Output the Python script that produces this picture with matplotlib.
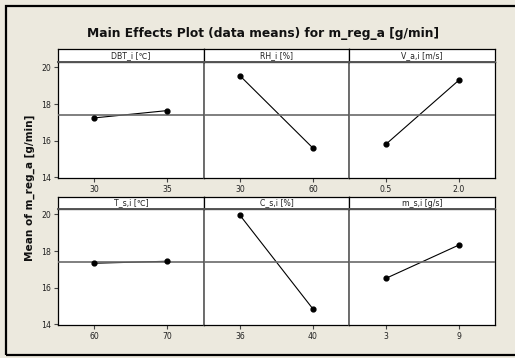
import matplotlib
matplotlib.use("Agg")
import matplotlib.pyplot as plt
from matplotlib.patches import Rectangle

# Factor names and their two levels
factors = ["DBT_i [\u2103]", "RH_i [%]", "V_a,i [m/s]",
           "T_s,i [\u2103]", "C_s,i [%]", "m_s,i [g/s]"]
levels = [["30", "35"], ["30", "60"], ["0.5", "2.0"],
          ["60", "70"], ["36", "40"], ["3", "9"]]
# Mean response at each level
means = [[17.24, 17.64], [19.54, 15.59], [15.79, 19.29],
         [17.33, 17.44], [19.95, 14.83], [16.50, 18.32]]
grand_mean = 17.38
y_ticks = [14, 16, 18, 20]

W, H = 515, 358
BG = "#ECE9DE"
fig = plt.figure(figsize=(W / 100, H / 100), dpi=100, facecolor=BG)


def fx(px):
    return px / W


def fy(py):
    return 1 - py / H


# outer frame
fig.patches.append(Rectangle((fx(5.5), fy(354.5)), fx(530) - fx(5.5), fy(6) - fy(354.5),
                             transform=fig.transFigure, fill=False,
                             edgecolor="black", linewidth=1.6, zorder=0))

left, right = 58, 495
col_w = (right - left) / 3
rows = [(49, 62, 178), (197, 209, 325)]  # strip top, plot top, plot bottom

tick_font = dict(fontsize=5.6, color="#222222")

for i in range(6):
    r, c = divmod(i, 3)
    st, pt, pb = rows[r]
    x0 = left + c * col_w
    ax = fig.add_axes([fx(x0), fy(pb), col_w / W, (pb - pt) / H])
    ax.set_facecolor("white")
    xs = [1, 2]
    ax.plot(xs, means[i], color="black", linewidth=0.8, zorder=2)
    ax.axhline(grand_mean, color="#6a6a6a", linewidth=1.2, zorder=3)
    ax.scatter(xs, means[i], s=12, color="black", zorder=4)
    ax.set_xlim(0.5, 2.5)
    ax.set_ylim(13.95, 20.3)
    ax.set_xticks(xs)
    ax.set_xticklabels(levels[i], **tick_font)
    ax.tick_params(axis="x", length=3, width=0.8, pad=2, color="#444444")
    if c == 0:
        ax.set_yticks(y_ticks)
        ax.set_yticklabels([str(t) for t in y_ticks], **tick_font)
        ax.tick_params(axis="y", length=3, width=0.8, pad=2, color="#444444")
    else:
        ax.set_yticks([])
    for s in ax.spines.values():
        s.set_linewidth(0.9)
        s.set_color("black")
    if c > 0:
        ax.spines["left"].set_color("#555555")
        ax.spines["left"].set_linewidth(1.2)

    # strip with factor name
    sax = fig.add_axes([fx(x0), fy(pt), col_w / W, (pt - st) / H])
    sax.set_facecolor("white")
    sax.set_xticks([])
    sax.set_yticks([])
    for s in sax.spines.values():
        s.set_linewidth(0.9)
        s.set_color("black")
    sax.spines["bottom"].set_color("#555555")
    sax.spines["bottom"].set_linewidth(1.4)
    sax.text(0.5, 0.5, factors[i], ha="center", va="center",
             fontsize=5.6, color="#222222", transform=sax.transAxes)

fig.text(fx(263), fy(33), "Main Effects Plot (data means) for m_reg_a [g/min]",
         ha="center", va="center", fontsize=8.8, fontweight="bold", color="#111111")
fig.text(fx(30), fy(187.5), "Mean of m_reg_a [g/min]", rotation=90,
         ha="center", va="center", fontsize=7.6, fontweight="bold", color="#111111")

fig.savefig("out.png", dpi=100, facecolor=BG)
